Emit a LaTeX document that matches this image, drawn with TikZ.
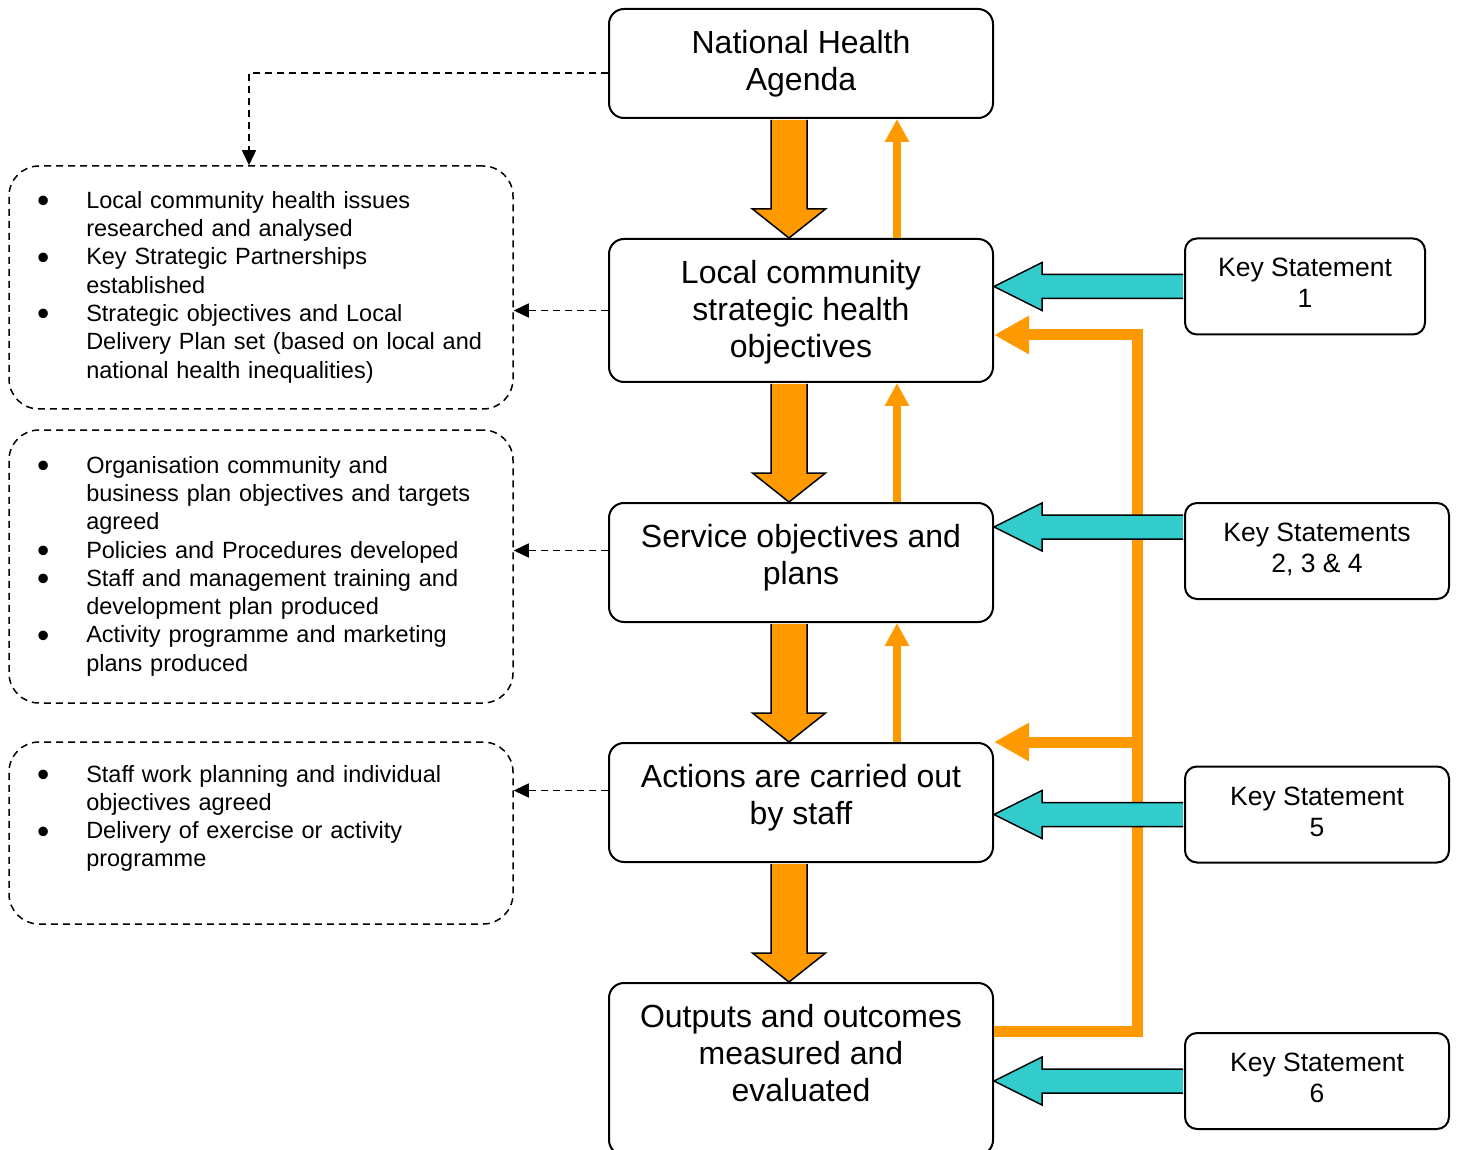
\documentclass[tikz,border=0pt]{standalone}
\usepackage{fontspec}
\setmainfont{Liberation Sans}
\usetikzlibrary{arrows.meta,calc}
\definecolor{flow}{HTML}{FF9900}
\definecolor{keyteal}{HTML}{33CCCC}
\newcommand{\stagetext}[2]{\parbox[c][#1][t]{384pt}{\centering\rule{0pt}{44.5pt}#2}}
\newcommand{\keytext}[2]{\parbox[c][96pt][t]{#1}{\centering\rule{0pt}{38.5pt}#2}}
\newcommand{\bul}{\smash{\raisebox{-4.5pt}{\fontsize{35}{28}\selectfont\textbullet}}}
\newcommand{\flowdown}[2]{
    \draw[flowfill] ($(#1.south)+(-30,1)$) -- ($(#2.north)+(-30,-29)$) -- ($(#2.north)+(-48.5,-29)$) -- ($(#2.north)+(-12,0)$) -- ($(#2.north)+(24.5,-29)$) -- ($(#2.north)+(6,-29)$) -- ($(#1.south)+(6,1)$);
}
\newcommand{\keyarrow}[2]{
    \coordinate (tip) at (#1 -| #2.east);
    \draw[keyfill] ($(#1)+(-1,-12)$) -- ($(tip)+(48,-12)$) -- ($(tip)+(48,-24)$) -- (tip) -- ($(tip)+(48,24)$) -- ($(tip)+(48,12)$) -- ($(#1)+(-1,12)$);
}

\begin{document}
\begin{tikzpicture}[x=1pt,y=-1pt,
    stage/.style={draw, line width=2pt, rounded corners=15pt, fill=white, inner sep=0pt, font=\fontsize{32}{37}\selectfont},
    keybox/.style={draw, line width=2pt, rounded corners=12pt, fill=white, inner sep=0pt, font=\fontsize{26.5}{31}\selectfont},
    notelist/.style={draw, line width=1.5pt, dash pattern=on 7pt off 5pt, rounded corners=30pt, text width=448pt, inner xsep=28pt, inner ysep=0pt, align=left, font=\fontsize{23.5}{28.3}\selectfont},
    note/.style={line width=1.5pt, dash pattern=on 7pt off 5pt, -{Triangle[length=15pt,width=14pt]}},
    flowfill/.style={draw, fill=flow, line width=1.5pt},
    keyfill/.style={draw, fill=keyteal, line width=1.5pt},
    upflow/.style={draw=flow, line width=8pt, -{Triangle[length=23pt,width=23pt]}},
    feedback/.style={draw=flow, line width=11pt, -{Triangle[length=35pt,width=36pt]}}]
\useasboundingbox (0,0) rectangle (1460,1150);
\clip (0,0) rectangle (1460,1150);

% stages
\node[stage] (nha) at (801,63.5) {\stagetext{109pt}{National Health\\Agenda}};
\node[stage] (lcsho) at (801,310.5) {\stagetext{143pt}{Local community\\strategic health\\objectives}};
\node[stage] (sop) at (801,562.5) {\stagetext{119pt}{Service objectives and\\plans}};
\node[stage] (acos) at (801,802.5) {\stagetext{119pt}{Actions are carried out\\by staff}};
\node[stage] (oome) at (801,1069) {\stagetext{172pt}{Outputs and outcomes\\measured and\\evaluated}};

% key statements
\node[keybox] (ks1) at (1305,286.5) {\keytext{240pt}{Key Statement\\1}};
\node[keybox] (ks2) at (1317,551) {\keytext{264pt}{Key Statements\\2, 3 \& 4}};
\node[keybox] (ks5) at (1317,814.5) {\keytext{264pt}{Key Statement\\5}};
\node[keybox] (ks6) at (1317,1081) {\keytext{264pt}{Key Statement\\6}};

% notes
\node[notelist, minimum height=243pt] (list1) at (261,287.5) {\begin{tabular}{@{}c@{\hspace{37pt}}l@{}}
\bul & Local community health issues\\
 & researched and analysed\\
\bul & Key Strategic Partnerships\\
 & established\\
\bul & Strategic objectives and Local\\
 & Delivery Plan set (based on local and\\
 & national health inequalities)
\end{tabular}};
\node[notelist, minimum height=273pt] (list2) at (261,566.5) {\begin{tabular}{@{}c@{\hspace{37pt}}l@{}}
\bul & Organisation community and\\
 & business plan objectives and targets\\
 & agreed\\
\bul & Policies and Procedures developed\\
\bul & Staff and management training and\\
 & development plan produced\\
\bul & Activity programme and marketing\\
 & plans produced
\end{tabular}};
\node[notelist, minimum height=182pt] (list3) at (261,833) {\begin{tabular}{@{}c@{\hspace{37pt}}l@{}}
\bul & Staff work planning and individual\\
 & objectives agreed\\
\bul & Delivery of exercise or activity\\
 & programme\\
 &
\end{tabular}};

% dashed links to notes
\draw[note] ([yshift=-9.5pt]nha.west) -| ([xshift=-12pt]list1.north);
\draw[note] (lcsho.west) -- (lcsho.west -| list1.east);
\draw[note] ([yshift=12pt]sop.west) -- ([yshift=12pt]sop.west -| list2.east);
\draw[note] ([yshift=12pt]acos.west) -- ([yshift=12pt]acos.west -| list3.east);

% flow down and back up
\flowdown{nha}{lcsho}
\flowdown{lcsho}{sop}
\flowdown{sop}{acos}
\flowdown{acos}{oome}
\draw[upflow] ([xshift=96pt]lcsho.north) -- ([xshift=96pt]nha.south);
\draw[upflow] ([xshift=96pt]sop.north) -- ([xshift=96pt]lcsho.south);
\draw[upflow] ([xshift=96pt]acos.north) -- ([xshift=96pt]sop.south);

% feedback loop
\coordinate (fb) at (1137.5,1031);
\draw[feedback] (oome.east |- fb) -- (fb) |- ([yshift=-24.5pt]lcsho.east);
\draw[feedback] (acos.north east -| fb) -- (acos.north east);

% key statement arrows
\coordinate (k2) at ([yshift=24pt]ks2.west);
\keyarrow{ks1.west}{lcsho}
\keyarrow{k2}{sop}
\keyarrow{ks5.west}{acos}
\keyarrow{ks6.west}{oome}
\end{tikzpicture}
\end{document}
